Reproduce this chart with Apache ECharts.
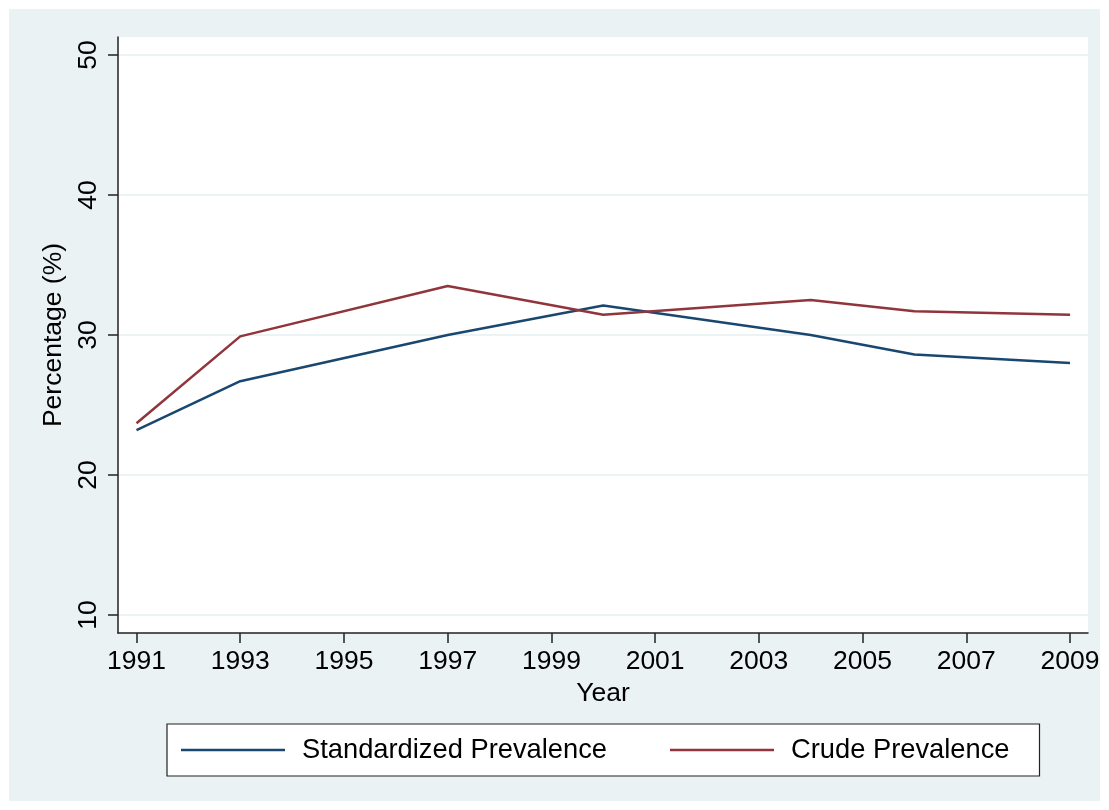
<!DOCTYPE html>
<html>
<head>
<meta charset="utf-8">
<script src="https://cdn.jsdelivr.net/npm/echarts@6/dist/echarts.min.js"></script>
<style>
    html, body { margin: 0; padding: 0; background: #fff; }
    #backdrop { position: absolute; left: 9px; top: 9px; width: 1091px; height: 792px; background: #eaf2f3; }
    #chart { position: absolute; left: 0; top: 0; width: 1109px; height: 810px; }
</style>
</head>
<body>
<div id="backdrop"></div>
<div id="chart"></div>
<script>
const years = [1991, 1993, 1997, 2000, 2004, 2006, 2009];
const standardized = [23.2, 26.7, 30.0, 32.1, 30.0, 28.6, 28.0];
const crude = [23.7, 29.9, 33.5, 31.45, 32.5, 31.7, 31.45];
const xTicks = [1991, 1993, 1995, 1997, 1999, 2001, 2003, 2005, 2007, 2009];
const yTicks = [10, 20, 30, 40, 50];

const FONT = "Liberation Sans, Arial, Helvetica, sans-serif";
const AXIS_COLOR = "#222";

function pairs(values) {
    return years.map((y, i) => [y, values[i]]);
}

const chart = echarts.init(document.getElementById("chart"));

chart.setOption({
    animation: false,
    backgroundColor: "transparent",
    textStyle: { fontFamily: FONT },
    grid: {
        left: 118, top: 37, width: 970, height: 596,
        outerBoundsMode: "none",
        containLabel: false,
        show: true, backgroundColor: "#fff", borderWidth: 0
    },
    xAxis: {
        type: "value",
        min: 1990.643, max: 2009.347,
        name: "Year",
        nameLocation: "middle",
        nameGap: 44,
        nameTextStyle: { fontSize: 26.5, color: "#000", fontFamily: FONT },
        axisLine: { show: true, lineStyle: { color: AXIS_COLOR, width: 1.5 } },
        axisTick: { show: true, length: 10, customValues: xTicks, lineStyle: { color: AXIS_COLOR, width: 1.5 } },
        axisLabel: {
            customValues: xTicks, margin: 15, fontSize: 26.5, color: "#000", fontFamily: FONT,
            formatter: v => String(v)
        },
        splitLine: { show: false }
    },
    yAxis: {
        type: "value",
        min: 8.714, max: 51.286,
        name: "Percentage (%)",
        nameLocation: "middle",
        nameGap: 32,
        nameTextStyle: { fontSize: 26.5, color: "#000", fontFamily: FONT },
        axisLine: { show: true, lineStyle: { color: AXIS_COLOR, width: 1.5 } },
        axisTick: { show: true, length: 10, customValues: yTicks, lineStyle: { color: AXIS_COLOR, width: 1.5 } },
        axisLabel: { customValues: yTicks, rotate: 90, margin: 16, fontSize: 26.5, color: "#000", fontFamily: FONT },
        splitLine: { show: true, lineStyle: { color: "#e6eff1", width: 1.5 } }
    },
    legend: {
        left: 167, top: 724,
        orient: "horizontal",
        backgroundColor: "#fff",
        borderColor: AXIS_COLOR,
        borderWidth: 1.2,
        borderRadius: 0,
        padding: [11, 30, 11, 14],
        itemGap: 63,
        itemWidth: 104,
        itemHeight: 2.5,
        icon: "rect",
        textStyle: { fontSize: 27.3, color: "#000", fontFamily: FONT, lineHeight: 30, padding: [0, 0, 0, 12] },
        data: ["Standardized Prevalence", "Crude Prevalence"]
    },
    series: [
        {
            name: "Standardized Prevalence",
            type: "line",
            data: pairs(standardized),
            symbol: "none",
            color: "#1a476f",
            lineStyle: { width: 2.5, color: "#1a476f" }
        },
        {
            name: "Crude Prevalence",
            type: "line",
            data: pairs(crude),
            symbol: "none",
            color: "#90353b",
            lineStyle: { width: 2.5, color: "#90353b" }
        }
    ]
});
</script>
</body>
</html>
